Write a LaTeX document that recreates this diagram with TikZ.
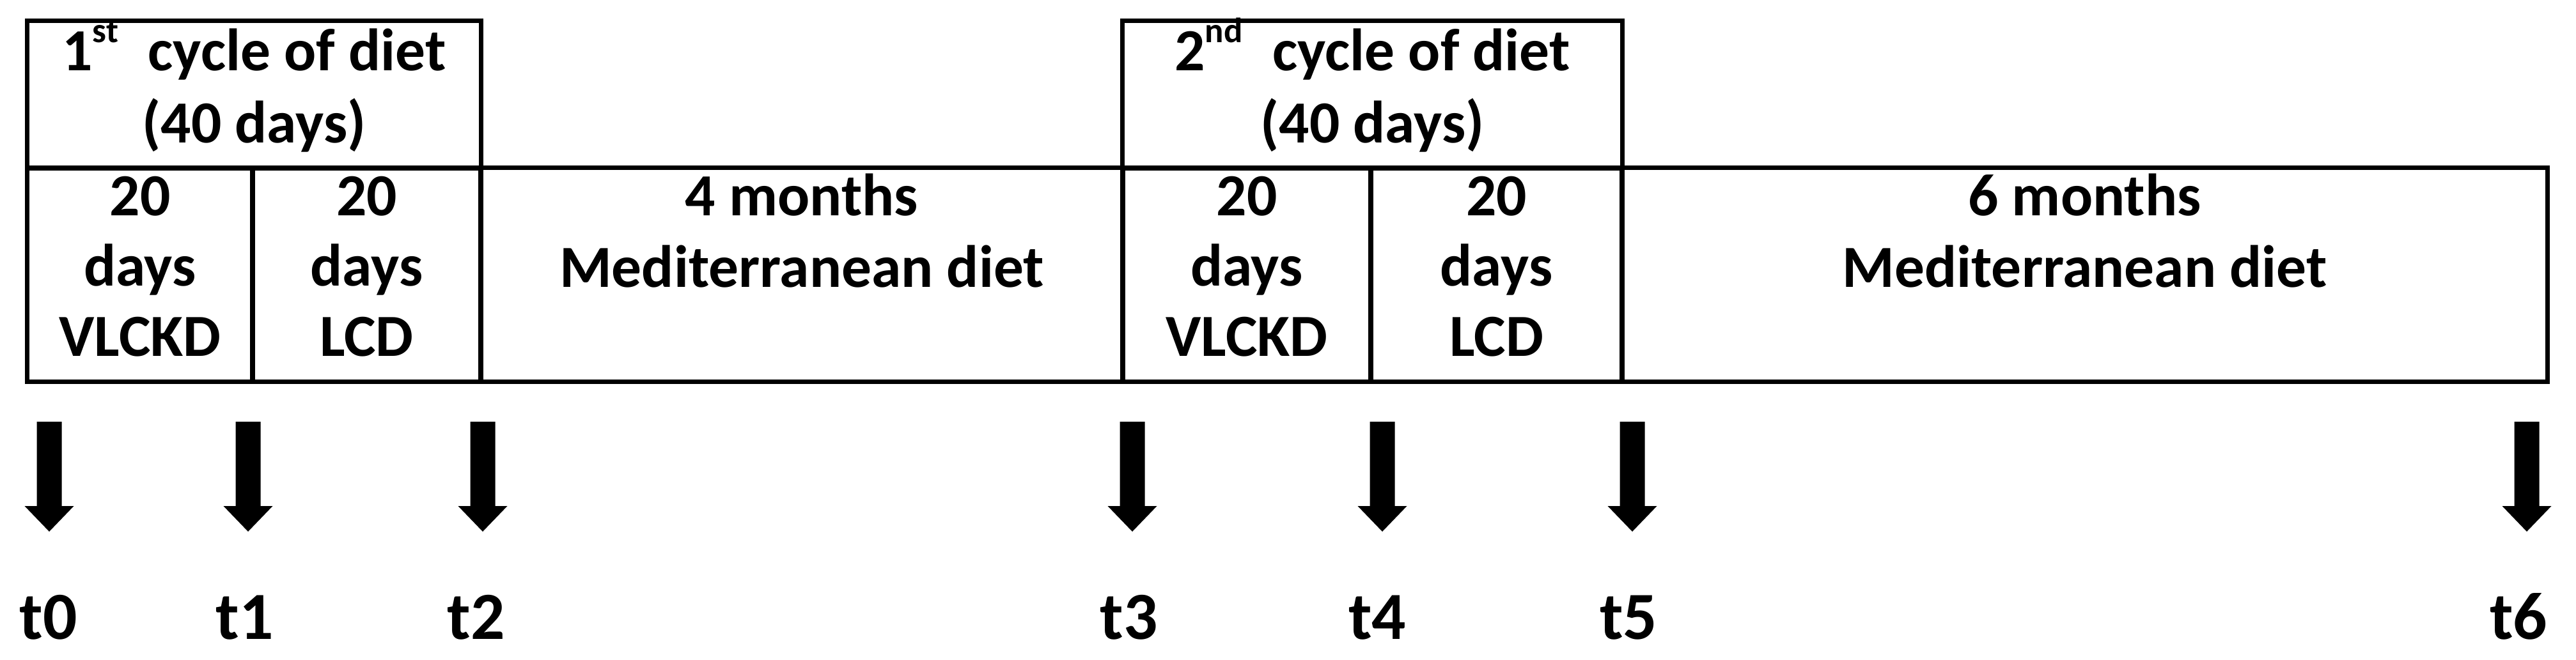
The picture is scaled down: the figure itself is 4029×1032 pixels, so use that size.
\documentclass[tikz,border=0pt]{standalone}
\usepackage{fontspec}
\setmainfont{Carlito}
\begin{document}
\begin{tikzpicture}[x=0.01cm, y=-0.01cm,
  cell/.style={draw=black, line width=2pt, rectangle, inner sep=0pt, outer sep=0pt},
  txt/.style={font=\fontsize{26.6}{31}\selectfont\bfseries, anchor=base, inner sep=0pt},
  tlab/.style={font=\fontsize{30}{36}\selectfont\bfseries, anchor=base, inner sep=0pt}]
\useasboundingbox (0,0) rectangle (4029,1032);
\fill[white] (0,0) rectangle (4029,1032);

% cycle boxes (top row)
\node[cell, minimum width=7.09cm, minimum height=2.30cm] (cyc1) at (397.5,148) {};
\node[cell, minimum width=7.81cm, minimum height=2.30cm] (cyc2) at (2146.5,148) {};

% phase cells (bottom row)
\node[cell, minimum width=3.52cm, minimum height=3.34cm] (r1) at (219,430) {};
\node[cell, minimum width=3.57cm, minimum height=3.34cm] (r2) at (573.5,430) {};
\node[cell, minimum width=10.04cm, minimum height=3.34cm] (r3) at (1254,430) {};
\node[cell, minimum width=3.88cm, minimum height=3.34cm] (r4) at (1950,430) {};
\node[cell, minimum width=3.93cm, minimum height=3.34cm] (r5) at (2340.5,430) {};
\node[cell, minimum width=14.47cm, minimum height=3.34cm] (r6) at (3260.5,430) {};

% texts in cycle boxes
\node[txt] (c1a) at (cyc1 |- 0,110) {1\raisebox{0.46em}{\fontsize{15.6}{16}\selectfont st}\hspace{0.5em}cycle of diet};
\node[txt] (c1b) at (cyc1 |- 0,223) {(40 days)};
\node[txt] (c2a) at (cyc2 |- 0,110) {2\raisebox{0.46em}{\fontsize{15.6}{16}\selectfont nd}\hspace{0.5em}cycle of diet};
\node[txt] (c2b) at (cyc2 |- 0,223) {(40 days)};

% texts in phase cells
\node[txt] (r1a) at (r1 |- 0,337) {20};
\node[txt] (r1b) at (r1 |- 0,447) {days};
\node[txt] (r1c) at (r1 |- 0,557) {VLCKD};
\node[txt] (r2a) at (r2 |- 0,337) {20};
\node[txt] (r2b) at (r2 |- 0,447) {days};
\node[txt] (r2c) at (r2 |- 0,557) {LCD};
\node[txt] (r3a) at (r3 |- 0,337) {4 months};
\node[txt] (r3b) at (r3 |- 0,449) {Mediterranean diet};
\node[txt] (r4a) at (r4 |- 0,337) {20};
\node[txt] (r4b) at (r4 |- 0,447) {days};
\node[txt] (r4c) at (r4 |- 0,557) {VLCKD};
\node[txt] (r5a) at (r5 |- 0,337) {20};
\node[txt] (r5b) at (r5 |- 0,447) {days};
\node[txt] (r5c) at (r5 |- 0,557) {LCD};
\node[txt] (r6a) at (r6 |- 0,337) {6 months};
\node[txt] (r6b) at (r6 |- 0,449) {Mediterranean diet};

% time-point arrows and labels
\foreach \n/\x/\lx in {0/77/76, 1/388/383, 2/755/745, 3/1771/1766, 4/2162/2154, 5/2553/2547, 6/3952/3939} {
  \coordinate (a\n) at (\x,660);
  \coordinate (b\n) at (\x,832);
  \fill[black] (a\n) ++(-19.5,0) -- ++(39,0) -- ++(0,132) -- ++(19,0) -- (b\n)
     -- ++(-38.5,-40) -- ++(19,0) -- cycle;
  \node[tlab] (t\n) at (\lx,1000) {t\n};
}
\end{tikzpicture}
\end{document}
